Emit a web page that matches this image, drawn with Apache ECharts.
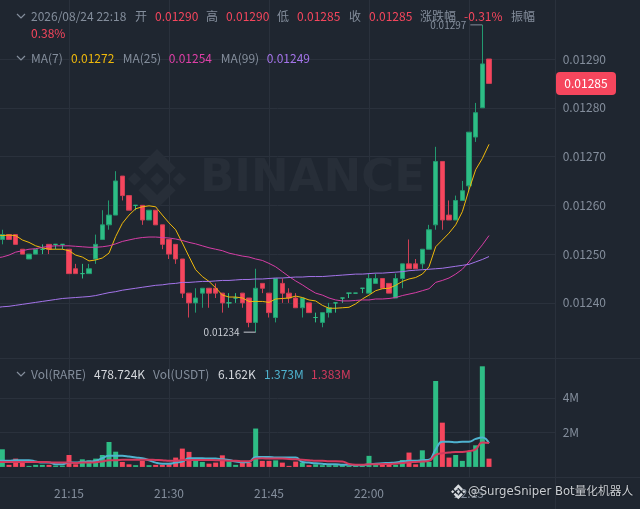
<!DOCTYPE html>
<html><head><meta charset="utf-8">
<style>html,body{margin:0;padding:0;background:#1f2630}#c{width:640px;height:509px}</style>
<script src="https://cdn.jsdelivr.net/npm/echarts@6/dist/echarts.min.js"></script>
</head><body><div id="c"></div>
<script>
var categories=["21:04","21:05","21:06","21:07","21:08","21:09","21:10","21:11","21:12","21:13","21:14","21:15","21:16","21:17","21:18","21:19","21:20","21:21","21:22","21:23","21:24","21:25","21:26","21:27","21:28","21:29","21:30","21:31","21:32","21:33","21:34","21:35","21:36","21:37","21:38","21:39","21:40","21:41","21:42","21:43","21:44","21:45","21:46","21:47","21:48","21:49","21:50","21:51","21:52","21:53","21:54","21:55","21:56","21:57","21:58","21:59","22:00","22:01","22:02","22:03","22:04","22:05","22:06","22:07","22:08","22:09","22:10","22:11","22:12","22:13","22:14","22:15","22:16","22:17","22:18","22:19","22:20","22:21","22:22","22:23","22:24","22:25","22:26","22:27","22:28"];
var opens=[0.01253,0.01254,0.01254,0.01251,0.01249,0.0125,0.01251,0.01252,0.01252,0.01252,0.01251,0.01247,0.01246,0.01246,0.01249,0.01253,0.01256,0.01258,0.01266,0.01262,0.0126,0.0126,0.01257,0.01259,0.01256,0.01253,0.01252,0.01249,0.01242,0.0124,0.01242,0.01243,0.01243,0.01242,0.0124,0.01241,0.01242,0.01241,0.01236,0.01244,0.01242,0.01237,0.01244,0.01242,0.01241,0.01239,0.0124,0.01237,0.01236,0.01238,0.0124,0.01241,0.01242,0.01242,0.01243,0.01242,0.01244,0.01245,0.01244,0.01241,0.01245,0.01248,0.01248,0.01248,0.01251,0.01256,0.01269,0.01258,0.01257,0.01261,0.01264,0.01274,0.0128,0.0129];
var closes=[0.01254,0.01253,0.01252,0.0125,0.0125,0.01251,0.01251,0.01251,0.01252,0.01252,0.01246,0.01246,0.01246,0.01247,0.01252,0.01256,0.01258,0.01265,0.01262,0.01259,0.0126,0.01257,0.01259,0.01256,0.01252,0.0125,0.01249,0.01242,0.0124,0.01241,0.01243,0.01242,0.01242,0.0124,0.0124,0.01241,0.0124,0.01236,0.01243,0.01243,0.01238,0.01245,0.01242,0.01241,0.01239,0.01241,0.01238,0.01237,0.01238,0.01239,0.0124,0.01241,0.01242,0.01242,0.01243,0.01245,0.01245,0.01243,0.01242,0.01245,0.01248,0.01247,0.01247,0.01251,0.01255,0.01269,0.01257,0.01257,0.01261,0.01263,0.01275,0.01279,0.01289,0.01285];
var lows=[0.01252,0.01253,0.01252,0.0125,0.01249,0.0125,0.0125,0.0125,0.01251,0.01251,0.01246,0.01246,0.01245,0.01246,0.01248,0.01253,0.01255,0.01258,0.01261,0.01259,0.01259,0.01256,0.01257,0.01256,0.01251,0.01249,0.01248,0.01241,0.01237,0.01238,0.01239,0.01239,0.01241,0.01238,0.01239,0.0124,0.01239,0.01235,0.01234,0.01242,0.01237,0.01236,0.0124,0.0124,0.01239,0.01237,0.01238,0.01236,0.01235,0.01237,0.01238,0.0124,0.01241,0.01242,0.01242,0.01242,0.01244,0.01243,0.01242,0.01241,0.01243,0.01247,0.01247,0.01247,0.01251,0.01255,0.01255,0.01257,0.01257,0.01261,0.01263,0.01273,0.0128,0.01285];
var highs=[0.01255,0.01254,0.01254,0.01251,0.0125,0.01251,0.01252,0.01252,0.01252,0.01252,0.01251,0.01248,0.01248,0.01248,0.01254,0.01259,0.01261,0.01267,0.01266,0.01262,0.0126,0.0126,0.01259,0.01259,0.01256,0.01253,0.01252,0.01249,0.01242,0.01243,0.01243,0.01243,0.01244,0.01242,0.01242,0.01242,0.01242,0.01241,0.01247,0.01244,0.01242,0.01245,0.01245,0.01243,0.01242,0.01241,0.0124,0.01238,0.01238,0.0124,0.0124,0.01241,0.01242,0.01242,0.01243,0.01246,0.01246,0.01245,0.01244,0.01246,0.01248,0.01253,0.01249,0.01251,0.01256,0.01272,0.01269,0.01261,0.01262,0.01265,0.01275,0.01281,0.01297,0.0129];
var ma7=[0.0125400,0.0125380,0.0125390,0.0125380,0.0125290,0.0125240,0.0125170,0.0125130,0.0125100,0.0125100,0.0125100,0.0125070,0.0124980,0.0124940,0.0124860,0.0124880,0.0124920,0.0125020,0.0125360,0.0125630,0.0125800,0.0125930,0.0125970,0.0125990,0.0125970,0.0125800,0.0125640,0.0125500,0.0125230,0.0124950,0.0124680,0.0124540,0.0124440,0.0124310,0.0124160,0.0124120,0.0124120,0.0124100,0.0124030,0.0124030,0.0124030,0.0124010,0.0124080,0.0124090,0.0124100,0.0124140,0.0124110,0.0124060,0.0124040,0.0123950,0.0123890,0.0123890,0.0123900,0.0123910,0.0123980,0.0124080,0.0124160,0.0124250,0.0124290,0.0124300,0.0124360,0.0124440,0.0124490,0.0124520,0.0124590,0.0124740,0.0125150,0.0125290,0.0125430,0.0125600,0.0125870,0.0126320,0.0126730,0.0126960,0.0127250];
var ma25=[0.0124920,0.0124940,0.0124980,0.0125040,0.0125070,0.0125100,0.0125110,0.0125140,0.0125160,0.0125170,0.0125170,0.0125170,0.0125160,0.0125150,0.0125140,0.0125140,0.0125150,0.0125170,0.0125210,0.0125260,0.0125290,0.0125320,0.0125340,0.0125350,0.0125350,0.0125340,0.0125330,0.0125310,0.0125280,0.0125240,0.0125210,0.0125170,0.0125130,0.0125100,0.0125070,0.0125020,0.0124990,0.0124960,0.0124940,0.0124900,0.0124870,0.0124810,0.0124740,0.0124640,0.0124540,0.0124450,0.0124370,0.0124280,0.0124200,0.0124160,0.0124100,0.0124060,0.0124040,0.0124040,0.0124050,0.0124060,0.0124060,0.0124080,0.0124080,0.0124090,0.0124110,0.0124150,0.0124180,0.0124210,0.0124250,0.0124290,0.0124420,0.0124460,0.0124510,0.0124590,0.0124690,0.0124840,0.0125020,0.0125190,0.0125380];
var ma99=[0.0123900,0.0123920,0.0123930,0.0123950,0.0123970,0.0123990,0.0124010,0.0124030,0.0124050,0.0124070,0.0124090,0.0124100,0.0124110,0.0124120,0.0124130,0.0124150,0.0124180,0.0124210,0.0124230,0.0124260,0.0124280,0.0124300,0.0124320,0.0124340,0.0124360,0.0124370,0.0124390,0.0124400,0.0124420,0.0124420,0.0124430,0.0124440,0.0124440,0.0124450,0.0124460,0.0124460,0.0124470,0.0124480,0.0124480,0.0124490,0.0124490,0.0124500,0.0124510,0.0124510,0.0124520,0.0124530,0.0124530,0.0124540,0.0124540,0.0124540,0.0124550,0.0124560,0.0124570,0.0124580,0.0124590,0.0124590,0.0124600,0.0124610,0.0124610,0.0124620,0.0124630,0.0124640,0.0124660,0.0124670,0.0124680,0.0124690,0.0124700,0.0124710,0.0124730,0.0124750,0.0124770,0.0124790,0.0124840,0.0124890,0.0124950];
var volumes=[1020000,120000,480000,300000,60000,120000,120000,120000,80000,80000,690000,150000,440000,380000,480000,690000,1440000,880000,290000,150000,100000,350000,100000,120000,120000,150000,540000,1060000,870000,380000,290000,190000,250000,670000,310000,120000,250000,250000,2220000,350000,350000,380000,250000,60000,310000,250000,100000,150000,100000,100000,100000,100000,60000,60000,60000,640000,120000,150000,150000,120000,400000,830000,150000,960000,290000,4970000,2560000,540000,690000,350000,870000,1250000,5820000,479000];
var volMaBlue=[350000,350000,350000,390000,390000,390000,310000,250000,250000,150000,150000,250000,250000,290000,310000,350000,500000,640000,640000,640000,600000,540000,500000,390000,250000,190000,190000,250000,310000,500000,500000,500000,480000,480000,440000,400000,310000,270000,290000,580000,580000,580000,540000,540000,540000,540000,290000,250000,210000,190000,150000,150000,120000,120000,100000,100000,150000,190000,210000,230000,250000,310000,350000,350000,390000,420000,1020000,1460000,1460000,1430000,1460000,1460000,1620000,1700000,1373000];
var volMaRed=[290000,290000,290000,290000,290000,290000,290000,290000,270000,250000,250000,250000,230000,250000,250000,270000,310000,390000,390000,420000,420000,420000,420000,420000,400000,390000,350000,350000,400000,390000,400000,400000,400000,390000,390000,350000,350000,330000,330000,480000,500000,480000,480000,480000,460000,440000,420000,390000,350000,350000,330000,330000,310000,170000,130000,130000,150000,150000,170000,170000,190000,230000,270000,290000,310000,350000,690000,790000,830000,870000,870000,920000,1020000,1410000,1383000];
var priceTicks=[0.0129,0.0128,0.0127,0.0126,0.0125,0.0124];
var volumeTicks=[2000000,4000000];
var green='#2ebd85',red='#f6465d',grey='#848e9c',bg='#1f2630',lineC='#2a313c';
var font='12px "Noto Sans CJK SC","Noto Sans",sans-serif';

var candles=[{value:['-','-','-','-']}].concat(opens.map(function(o,i){return [o,closes[i],lows[i],highs[i]];}));
var volBars=[null].concat(volumes.map(function(v,i){return {value:v,itemStyle:{color:closes[i]>=opens[i]?green:red}};}));
var hiV=Math.max.apply(null,highs),loV=Math.min.apply(null,lows);
var hiI=highs.indexOf(hiV)+1,loI=lows.indexOf(loV)+1;

function t(s,x,y,c,extra){var st={text:s,x:x,y:y,fill:c||grey,font:font,textVerticalAlign:'middle'};if(extra)for(var k in extra)st[k]=extra[k];return {type:'text',z:20,silent:true,style:st};}
function chev(y){return {type:'polyline',z:20,silent:true,shape:{points:[[17,y-2],[21,y+2],[25,y-2]]},style:{stroke:grey,lineWidth:1.2,fill:'none'}};}
function hl(x1,y,x2){return {type:'line',z:1,silent:true,shape:{x1:x1,y1:y,x2:x2,y2:y},style:{stroke:lineC,lineWidth:1}};}
function logo(cx,cy,s,c,z){
  function P(pts){return {type:'polygon',z:z,silent:true,shape:{points:pts.map(function(p){return [cx+p[0]*s,cy+p[1]*s];})},style:{fill:c}};}
  var d=function(x,r){return [[x,-r],[x+r,0],[x,r],[x-r,0]];};
  return [P([[0,-30],[18.7,-11.3],[11.7,-4.3],[0,-16],[-11.7,-4.3],[-18.7,-11.3]]),
          P([[0,30],[18.7,11.3],[11.7,4.3],[0,16],[-11.7,4.3],[-18.7,11.3]]),
          P(d(0,6.8)),P(d(-22.5,6.6)),P(d(22.5,6.6))];
}
var gfx=[
 {type:'line',z:1,silent:true,shape:{x1:555.5,y1:0,x2:555.5,y2:509},style:{stroke:lineC,lineWidth:1}},
 hl(0,358.5,640),hl(0,477.5,640),
 {type:'text',z:1,silent:true,style:{text:'BINANCE',x:200,y:179,fill:'#272e38',font:'700 45px "DejaVu Sans",sans-serif',textVerticalAlign:'middle'}},
 chev(16),chev(58),chev(374),
 t('2026/08/24 22:18',31,16),t('开',135,16),t('0.01290',155,16,red),t('高',206,16),t('0.01290',226,16,red),
 t('低',277,16),t('0.01285',297,16,red),t('收',349,16),t('0.01285',369,16,red),t('涨跌幅',420,16),t('-0.31%',464,16,red),t('振幅',511,16),
 t('0.38%',31,33,red),
 t('MA(7)',31,58),t('0.01272',71,58,'#f0b90b'),t('MA(25)',122.7,58),t('0.01254',168.7,58,'#e03fa8'),t('MA(99)',220.7,58),t('0.01249',266.7,58,'#a474ea'),
 t('Vol(RARE)',31,374.5),t('478.724K',94,374.5,'#d5d8dd'),t('Vol(USDT)',153,374.5),t('6.162K',218,374.5,'#d5d8dd'),t('1.373M',264,374.5,'#4fb3cf'),t('1.383M',311,374.5,'#d33a5e'),
 {type:'rect',z:20,silent:true,shape:{x:556,y:72,width:60,height:23,r:4},style:{fill:red}},
 t('0.01285',586,83.5,'#ffffff',{textAlign:'center'}),
 {type:'text',z:30,silent:true,style:{text:'@SurgeSniper Bot量化机器人',x:468,y:491.5,fill:'#c9cdd2',font:'11.7px "DejaVu Sans","Noto Sans CJK SC",sans-serif',textVerticalAlign:'middle',textShadowColor:'rgba(0,0,0,0.6)',textShadowBlur:2}}
].concat(logo(157,179,1,'#272e38',1)).concat(logo(458.3,491.7,0.25,'#d8dce0',30));

function mp(cat,val,col,txtCol,w){return {coord:[categories[cat],val],value:val.toFixed(5),itemStyle:{color:col},symbolOffset:[-w/2,0],
  label:{show:true,position:'left',distance:4,color:txtCol,fontFamily:'Noto Sans CJK SC',fontSize:10,formatter:val.toFixed(5)}};}

var xBase={type:'category',data:categories,boundaryGap:false,axisLine:{show:false},axisTick:{show:false},
  splitLine:{show:true,interval:function(i,v){return v.slice(3)%15===0;},lineStyle:{color:lineC,width:1}}};
function xA(grid,lab){var o=Object.assign({},xBase);o.gridIndex=grid;
  o.axisLabel={show:lab,interval:function(i,v){return v.slice(3)%15===0;},color:grey,fontSize:12,fontFamily:'Noto Sans CJK SC',margin:10};return o;}
function line(name,data,col,w,xi,smooth){return {name:name,type:'line',data:data,xAxisIndex:xi,yAxisIndex:xi,symbol:'none',showSymbol:false,smooth:smooth,silent:true,z:3,lineStyle:{color:col,width:w},itemStyle:{color:col}};}

var chart=echarts.init(document.getElementById('c'),null,{renderer:'canvas'});
chart.setOption({
 animation:false,backgroundColor:bg,
 graphic:gfx,
 grid:[{left:-4.33,width:560,top:0,height:358,containLabel:false,outerBoundsMode:'none'},{left:-4.33,width:560,top:358,height:119,containLabel:false,outerBoundsMode:'none'}],
 xAxis:[xA(0,false),xA(1,true)],
 yAxis:[
  {type:'value',gridIndex:0,position:'right',min:0.012287,max:0.013021,scale:true,
   axisLine:{show:false},axisTick:{show:false,customValues:priceTicks},
   axisLabel:{customValues:priceTicks,color:grey,fontSize:12,fontFamily:'Noto Sans CJK SC',margin:7,formatter:function(v){return v.toFixed(5);}},
   splitLine:{show:true,lineStyle:{color:lineC,width:1}}},
  {type:'value',gridIndex:1,position:'right',min:-583000,max:6300000,
   axisLine:{show:false},axisTick:{show:false,customValues:volumeTicks},
   axisLabel:{customValues:volumeTicks,color:grey,fontSize:12,fontFamily:'Noto Sans CJK SC',margin:7,formatter:function(v){return (v/1e6)+'M';}},
   splitLine:{show:true,lineStyle:{color:lineC,width:1}}}
 ],
 series:[
  {name:'K',type:'candlestick',data:candles,xAxisIndex:0,yAxisIndex:0,barWidth:5,silent:true,z:2,
   itemStyle:{color:green,color0:red,borderColor:'#229a70',borderColor0:'#cf3f55',borderColorDoji:green,borderWidth:1},
   markPoint:{silent:true,symbol:'rect',symbolSize:[12,1],animation:false,
    data:[mp(hiI,hiV,grey,grey,12),mp(loI,loV,'#c8ccd3','#c8ccd3',12)]}},
  line('MA7',ma7,'#f0b90b',1,0,false),
  line('MA25',ma25,'#d63ea6',1,0,false),
  line('MA99',ma99,'#a474ea',1,0,false),
  {name:'Vol',type:'bar',data:volBars,xAxisIndex:1,yAxisIndex:1,barWidth:5,silent:true,z:2},
  line('VolMA5',volMaBlue,'#4fb3cf',2,1,true),
  line('VolMA10',volMaRed,'#d33a5e',2,1,true)
 ]
});
</script></body></html>
